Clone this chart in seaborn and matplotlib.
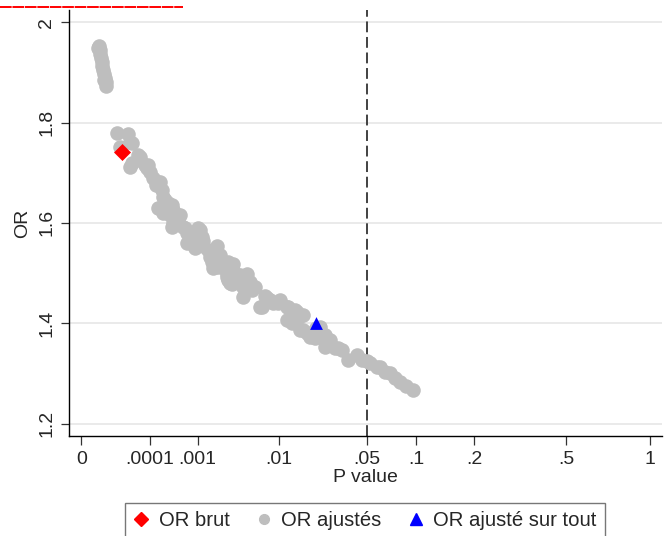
import numpy as np
import pandas as pd
import matplotlib
matplotlib.use("Agg")
import matplotlib.pyplot as plt
import seaborn as sns
from matplotlib.lines import Line2D

# Adjusted odds ratios and their P values
p_adj = [2.1e-7, 2.7e-7, 3.5e-7, 3.5e-7, 4.4e-7, 5.4e-7, 5.4e-7, 6.6e-7, 8.1e-7,
         8.1e-7, 9.8e-7, 1.17e-6, 1.17e-6,
         5.6e-6, 8.3e-6, 1.94e-5, 2.26e-5, 2.62e-5, 4.5e-5, 5.1e-5, 2.26e-5, 2.62e-5,
         8.2e-5, 9.0e-5, 1.01e-4, 1.67e-4, 1.83e-4, 2.0e-4, 2.19e-4, 1.67e-4, 1.83e-4,
         2.15e-4, 2.61e-4, 2.83e-4, 3.35e-4, 3.62e-4, 4.55e-4, 4.9e-4, 4.2e-4, 3.62e-4,
         3.35e-4, 5.67e-4, 6.5e-4, 1.03e-3, 1.09e-3, 7.46e-4, 7.46e-4, 6.5e-4, 1.16e-3,
         1.23e-3, 9.1e-4, 1.94e-3, 1.23e-3, 1.56e-3, 2.16e-3, 2.04e-3, 1.74e-3, 2.78e-3,
         2.16e-3, 3.21e-3, 3.21e-3, 2.65e-3, 2.78e-3, 2.92e-3, 3.88e-3, 4.64e-3, 5.06e-3,
         4.64e-3, 4.2e-3, 4.24e-3, 5.74e-3, 6.5e-3, 7.63e-3, 8.87e-3, 9.93e-3, 1.19e-2,
         1.22e-2, 1.41e-2, 1.46e-2, 1.28e-2, 1.19e-2, 1.32e-2, 1.67e-2, 1.56e-2, 1.67e-2,
         1.78e-2, 1.90e-2, 2.09e-2, 2.29e-2, 2.50e-2, 2.58e-2, 3.16e-2, 3.72e-2, 4.26e-2,
         5.23e-2, 5.78e-2, 6.52e-2, 7.51e-2, 8.04e-2, 9.61e-2,
         2.65e-3, 3.06e-3, 8.24e-3, 6.77e-3, 2.43e-2, 2.50e-2, 2.98e-2, 6.07e-2, 7.0e-2,
         5.1e-5, 7.3e-5, 1.22e-4, 1.5e-4, 2.39e-4, 3.08e-4, 4.5e-4, 6.07e-4, 8.4e-4,
         9.45e-4, 1.45e-3, 1.65e-3, 2.44e-3, 3.47e-3, 5.3e-3, 7.3e-3, 1.03e-2, 1.50e-2,
         2.12e-2, 2.74e-2, 3.36e-2, 4.63e-2, 5.0e-2, 8.7e-2]
or_adj = [1.949, 1.953, 1.945, 1.937, 1.929, 1.921, 1.913, 1.905, 1.897,
          1.885, 1.889, 1.881, 1.873,
          1.779, 1.752, 1.777, 1.762, 1.759, 1.735, 1.732, 1.712, 1.719,
          1.709, 1.715, 1.702, 1.682, 1.682, 1.666, 1.652, 1.629, 1.629,
          1.620, 1.636, 1.639, 1.636, 1.626, 1.616, 1.616, 1.599, 1.599,
          1.592, 1.592, 1.579, 1.589, 1.586, 1.572, 1.563, 1.559, 1.572,
          1.563, 1.550, 1.553, 1.553, 1.533, 1.536, 1.513, 1.510, 1.523,
          1.529, 1.506, 1.519, 1.499, 1.486, 1.480, 1.496, 1.499, 1.483,
          1.480, 1.472, 1.453, 1.473, 1.433, 1.450, 1.440, 1.440, 1.433,
          1.433, 1.427, 1.423, 1.407, 1.407, 1.400, 1.416, 1.386, 1.386,
          1.380, 1.373, 1.370, 1.393, 1.377, 1.357, 1.350, 1.327, 1.337,
          1.320, 1.313, 1.303, 1.290, 1.283, 1.267,
          1.493, 1.479, 1.446, 1.433, 1.373, 1.353, 1.350, 1.313, 1.300,
          1.725, 1.715, 1.690, 1.676, 1.646, 1.616, 1.606, 1.590, 1.576,
          1.560, 1.546, 1.522, 1.510, 1.490, 1.466, 1.454, 1.446, 1.410,
          1.390, 1.366, 1.347, 1.327, 1.325, 1.275]

# Crude OR and OR adjusted on all covariates
p_brut = [1.0e-5]
or_brut = [1.742]
p_all = [0.0211]
or_all = [1.401]

x_ticks = [0, 0.0001, 0.001, 0.01, 0.05, 0.1, 0.2, 0.5, 1]
x_labels = ["0", ".0001", ".001", ".01", ".05", ".1", ".2", ".5", "1"]
y_ticks = [1.2, 1.4, 1.6, 1.8, 2.0]
y_labels = ["1.2", "1.4", "1.6", "1.8", "2"]
threshold = 0.05

sns.set_theme(style="white")
plt.rcParams["font.family"] = ["Liberation Sans", "DejaVu Sans"]
plt.rcParams["font.size"] = 14

POW = 0.23


def fwd(p):
    p = np.asarray(p, dtype=float)
    return np.sign(p) * np.abs(p) ** POW


def inv(t):
    t = np.asarray(t, dtype=float)
    return np.sign(t) * np.abs(t) ** (1.0 / POW)


fig = plt.figure(figsize=(6.7, 5.36), dpi=100)
fig.patch.set_facecolor("white")
ax = fig.add_axes([69 / 670, 1 - 436 / 536, (662 - 69) / 670, (436 - 10) / 536])
ax.set_xscale("function", functions=(fwd, inv))

df_adj = pd.DataFrame({"p": p_adj, "OR": or_adj})
df_brut = pd.DataFrame({"p": p_brut, "OR": or_brut})
df_all = pd.DataFrame({"p": p_all, "OR": or_all})

ax.axvline(threshold, color="#333333", lw=1.3, dashes=(6, 2.6), zorder=1)
sns.scatterplot(data=df_adj, x="p", y="OR", ax=ax, color="#bebebe", s=110,
                marker="o", linewidth=0, legend=False, zorder=3)
sns.scatterplot(data=df_brut, x="p", y="OR", ax=ax, color="#ff0000", s=75,
                marker="D", linewidth=0, legend=False, zorder=4)
sns.scatterplot(data=df_all, x="p", y="OR", ax=ax, color="#0000ff", s=85,
                marker="^", linewidth=0, legend=False, zorder=4)

ax.set_xlim(inv(-0.0218), inv(1.0207))
ax.set_ylim(1.1751, 2.0246)

ax.set_xticks(x_ticks)
ax.set_xticklabels(x_labels)
ax.set_yticks(y_ticks)
ax.set_yticklabels(y_labels, rotation=90, va="center")
ax.xaxis.set_minor_locator(matplotlib.ticker.NullLocator())

ax.grid(axis="y", color="#e6e6e6", lw=1.2)
ax.grid(axis="x", visible=False)
ax.set_axisbelow(True)
for side in ("top", "right"):
    ax.spines[side].set_visible(False)
for side in ("left", "bottom"):
    ax.spines[side].set_color("black")
    ax.spines[side].set_linewidth(1.0)

ax.tick_params(axis="x", direction="out", length=6.5, width=0.9, color="#333333",
               pad=4, labelsize=14, bottom=True)
ax.tick_params(axis="y", direction="out", length=5.8, width=0.9, color="#333333",
               pad=4, labelsize=14, left=True)

ax.set_xlabel("P value", fontsize=14)
ax.xaxis.label.set_va("baseline")
ax.xaxis.set_label_coords(0.5, (436 - 482) / 426)
ax.set_ylabel("OR", fontsize=14)
ax.yaxis.set_label_coords((31 - 69) / 593, 0.5)

handles = [
    Line2D([], [], linestyle="none", marker="D", color="#ff0000", markersize=7.5),
    Line2D([], [], linestyle="none", marker="o", color="#bebebe", markersize=7),
    Line2D([], [], linestyle="none", marker="^", color="#0000ff", markersize=8),
]
labels = ["OR brut", "OR ajustés", "OR ajusté sur tout"]
leg = fig.legend(handles, labels, loc="upper center", ncol=3,
                 bbox_to_anchor=(365 / 670, 1 - 503 / 536), borderaxespad=0,
                 frameon=True, fancybox=False, edgecolor="#555555",
                 fontsize=14.6, handlelength=0.8, handletextpad=0.45,
                 columnspacing=1.3, borderpad=0.4)
leg.get_frame().set_linewidth(1.0)

# red dashed rule along the top edge
fig.add_artist(Line2D([0, 183 / 670], [1 - 7 / 536, 1 - 7 / 536],
                      transform=fig.transFigure, color="#ff0000", lw=1.4,
                      dashes=(6, 0.4)))

fig.savefig("out.png", dpi=100, facecolor="white")
